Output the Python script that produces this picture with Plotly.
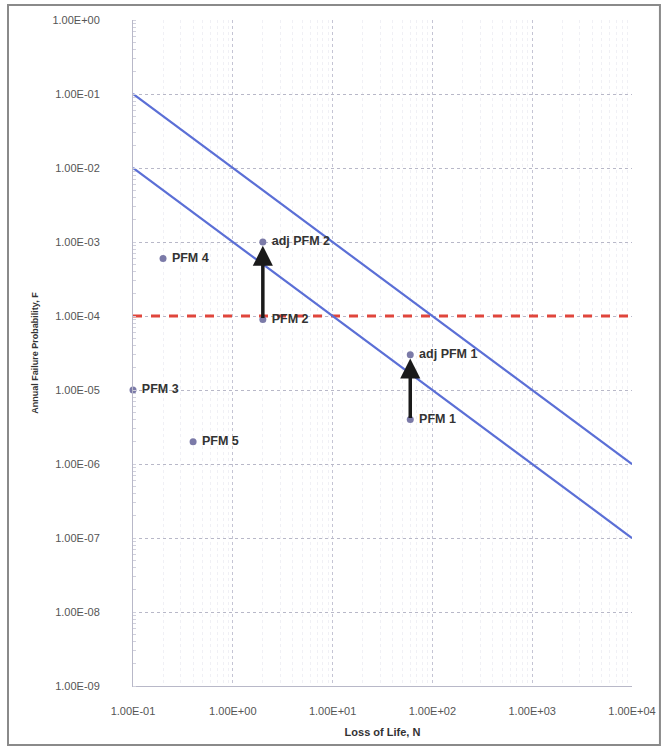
import numpy as np
import plotly.graph_objects as go

# Potential failure modes: loss of life (N) and annual failure probability (F)
pfm_names = ["PFM 1", "PFM 2", "PFM 3", "PFM 4", "PFM 5"]
pfm_n = [60, 2, 0.1, 0.2, 0.4]
pfm_f = [4.0e-6, 9.0e-5, 1.0e-5, 6.0e-4, 2.0e-6]

adj_names = ["adj PFM 1", "adj PFM 2"]
adj_n = [60, 2]
adj_f = [3.0e-5, 1.0e-3]

# F-N guideline lines (N, F end points)
upper_n = [0.1, 1.0e4]
upper_f = [1.0e-1, 1.0e-6]
lower_n = [0.1, 1.0e4]
lower_f = [1.0e-2, 1.0e-7]

# Individual risk limit
limit_n = [0.1, 1.0e4]
limit_f = [1.0e-4, 1.0e-4]

x_ticks = [1e-1, 1e0, 1e1, 1e2, 1e3, 1e4]
x_ticktext = ["1.00E-01", "1.00E+00", "1.00E+01", "1.00E+02", "1.00E+03", "1.00E+04"]
y_ticks = [1e-9, 1e-8, 1e-7, 1e-6, 1e-5, 1e-4, 1e-3, 1e-2, 1e-1, 1e0]
y_ticktext = ["1.00E-09", "1.00E-08", "1.00E-07", "1.00E-06", "1.00E-05",
              "1.00E-04", "1.00E-03", "1.00E-02", "1.00E-01", "1.00E+00"]

line_blue = "#5b6fd6"
marker_col = "#7b7aa8"
label_font = dict(family="Liberation Sans", size=12.5, color="#333333")

fig = go.Figure()

fig.add_trace(go.Scatter(x=limit_n, y=limit_f, mode="lines",
                         line=dict(color="#e0463c", width=3, dash="dash"),
                         showlegend=False, hoverinfo="skip"))
fig.add_trace(go.Scatter(x=upper_n, y=upper_f, mode="lines",
                         line=dict(color=line_blue, width=2.2),
                         showlegend=False, hoverinfo="skip"))
fig.add_trace(go.Scatter(x=lower_n, y=lower_f, mode="lines",
                         line=dict(color=line_blue, width=2.2),
                         showlegend=False, hoverinfo="skip"))

# Arrows from base estimate to adjusted estimate
for n0, f0, n1, f1 in zip(adj_n, [pfm_f[0], pfm_f[1]], adj_n, adj_f):
    fig.add_annotation(x=np.log10(n1), y=np.log10(f1) - 0.05,
                       ax=np.log10(n0), ay=np.log10(f0),
                       xref="x", yref="y", axref="x", ayref="y",
                       showarrow=True, arrowhead=2, arrowsize=1.15,
                       arrowwidth=3.5, arrowcolor="#1a1a1a", text="")

fig.add_trace(go.Scatter(x=pfm_n, y=pfm_f, mode="markers+text",
                         text=["<b> " + t + "</b>" for t in pfm_names],
                         textposition="middle right",
                         textfont=label_font, cliponaxis=False,
                         marker=dict(color=marker_col, size=7),
                         showlegend=False))
fig.add_trace(go.Scatter(x=adj_n, y=adj_f, mode="markers+text",
                         text=["<b> " + t + "</b>" for t in adj_names],
                         textposition="middle right",
                         textfont=label_font, cliponaxis=False,
                         marker=dict(color=marker_col, size=7),
                         showlegend=False))

# Outer chart border
fig.add_shape(type="rect", xref="paper", yref="paper",
              x0=-0.2505, x1=1.056, y0=-0.0886, y1=1.0225,
              line=dict(color="#8a8a8a", width=2), fillcolor="rgba(0,0,0,0)")

tick_font = dict(family="Liberation Sans Narrow, Liberation Sans", size=11, color="#555555")

fig.update_xaxes(type="log", range=[-1, 4],
                 tickvals=x_ticks, ticktext=x_ticktext, tickfont=tick_font,
                 ticklabelstandoff=15,
                 showgrid=True, gridcolor="#c4c4d4", gridwidth=1, griddash="dot",
                 minor=dict(dtick="D1", showgrid=True, gridcolor="#f0f0f5", gridwidth=1),
                 showline=True, linecolor="#b8b8c8", linewidth=1, zeroline=False,
                 ticks="", ticklen=0,
                 title=dict(text="<b>Loss of Life, N</b>",
                            font=dict(family="Liberation Sans Narrow, Liberation Sans", size=11, color="#333333"),
                            standoff=12))
fig.update_yaxes(type="log", range=[-9, 0],
                 tickvals=y_ticks, ticktext=y_ticktext, tickfont=tick_font,
                 ticklabelstandoff=30,
                 showgrid=True, gridcolor="#b8b8c8", gridwidth=1, griddash="dot",
                 minor=dict(dtick="D1", showgrid=False, ticks="inside", ticklen=3, tickcolor="#d0d0dc"),
                 showline=True, linecolor="#b8b8c8", linewidth=1, zeroline=False,
                 ticks="", ticklen=0,
                 title=dict(text="<b>Annual Failure Probability, F</b>",
                            font=dict(family="Liberation Sans Narrow, Liberation Sans", size=9, color="#333333"),
                            standoff=12))

fig.update_layout(width=667, height=751,
                  margin=dict(l=133, r=35, t=20, b=65),
                  paper_bgcolor="white", plot_bgcolor="white",
                  showlegend=False)

fig.write_html("out.html")
